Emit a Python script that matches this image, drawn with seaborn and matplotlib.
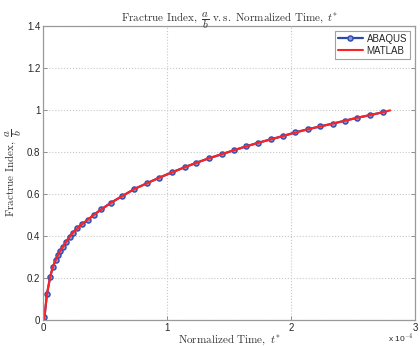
import numpy as np
import pandas as pd
import seaborn as sns
import matplotlib
matplotlib.use('Agg')
import matplotlib.pyplot as plt
from matplotlib.ticker import FuncFormatter

sns.set_theme(style="white")
plt.rcParams['font.family'] = ['Liberation Sans', 'DejaVu Sans']
plt.rcParams['mathtext.fontset'] = 'cm'

# normalized time in units of 1e-4, fracture index a/b
t_abaqus = [0.0, 0.01, 0.03, 0.056, 0.078, 0.10, 0.118, 0.137, 0.158, 0.185,
            0.212, 0.239, 0.271, 0.314, 0.36, 0.406, 0.468, 0.548, 0.637, 0.736,
            0.839, 0.938, 1.037, 1.14, 1.236, 1.336, 1.44, 1.537, 1.637, 1.736,
            1.836, 1.935, 2.035, 2.134, 2.236, 2.336, 2.435, 2.535, 2.634, 2.739]
ab_abaqus = [0.0, 0.016, 0.124, 0.206, 0.254, 0.286, 0.31, 0.329, 0.349, 0.373,
             0.397, 0.416, 0.437, 0.457, 0.476, 0.50, 0.527, 0.559, 0.59, 0.624,
             0.652, 0.678, 0.703, 0.727, 0.749, 0.77, 0.789, 0.808, 0.827, 0.844,
             0.86, 0.876, 0.894, 0.908, 0.922, 0.935, 0.949, 0.963, 0.975, 0.989]

t_matlab = [0.0, 0.01, 0.03, 0.056, 0.078, 0.10, 0.137, 0.185, 0.239, 0.314,
            0.406, 0.548, 0.736, 0.938, 1.14, 1.336, 1.537, 1.736, 1.935, 2.134,
            2.336, 2.535, 2.739, 2.80]
ab_matlab = [0.0, 0.016, 0.124, 0.206, 0.254, 0.286, 0.329, 0.373, 0.416, 0.457,
             0.50, 0.559, 0.624, 0.678, 0.727, 0.77, 0.808, 0.844, 0.876, 0.908,
             0.935, 0.963, 0.989, 0.998]

df_abaqus = pd.DataFrame({'t': t_abaqus, 'ab': ab_abaqus})
df_matlab = pd.DataFrame({'t': t_matlab, 'ab': ab_matlab})

fig = plt.figure(figsize=(4.2, 3.46), dpi=100)
ax = fig.add_axes([0.103, 0.075, 0.885, 0.850])

sns.lineplot(x='t', y='ab', data=df_abaqus, ax=ax, label='ABAQUS', color='#2c48a8',
             marker='o', markersize=3.6, markerfacecolor='#8a98d4',
             markeredgecolor='#3550b0', markeredgewidth=1.1, linewidth=1.6,
             sort=False, estimator=None)
sns.lineplot(x='t', y='ab', data=df_matlab, ax=ax, label='MATLAB', color='#ff2222',
             linewidth=1.5, sort=False, estimator=None)

ax.set_xlim(0, 3)
ax.set_ylim(0, 1.4)
ax.set_xticks([0, 1, 2, 3])
ax.set_yticks([0, 0.2, 0.4, 0.6, 0.8, 1.0, 1.2, 1.4])
ax.yaxis.set_major_formatter(FuncFormatter(lambda v, p: '%g' % v))
ax.xaxis.set_major_formatter(FuncFormatter(lambda v, p: '%g' % v))
ax.grid(True, linestyle=':', color='#c8c8c8', linewidth=0.8)
ax.tick_params(direction='in', length=3, width=0.6, colors='#808080',
               labelcolor='#262626', labelsize=7, top=False, right=True,
               bottom=True, left=True, pad=2)
for s in ax.spines.values():
    s.set_color('#9a9a9a')
    s.set_linewidth(0.9)

ax.set_title(r'$\mathrm{Fractrue\ Index,\ }\dfrac{a}{b}\mathrm{\ v.s.\ Normalized\ Time,\ }t^{*}$',
             fontsize=8, color='#333333', pad=3)
ax.set_xlabel(r'$\mathrm{Normalized\ Time,\ }t^{*}$', fontsize=8, color='#333333', labelpad=0)
ax.set_ylabel(r'$\mathrm{Fractrue\ Index,\ }\dfrac{a}{b}$', fontsize=8, color='#333333', labelpad=2)
fig.text(0.955, 0.014, r'x 10$^{-4}$', fontsize=6, color='#262626', ha='center')

leg = ax.legend(loc='upper right', fontsize=7, frameon=True, fancybox=False,
                borderpad=0.3, labelspacing=0.2, handlelength=2.6,
                handletextpad=0.4, borderaxespad=0.5)
leg.get_frame().set_edgecolor('#8a8a8a')
leg.get_frame().set_linewidth(0.8)

fig.savefig('out.png', dpi=100)
